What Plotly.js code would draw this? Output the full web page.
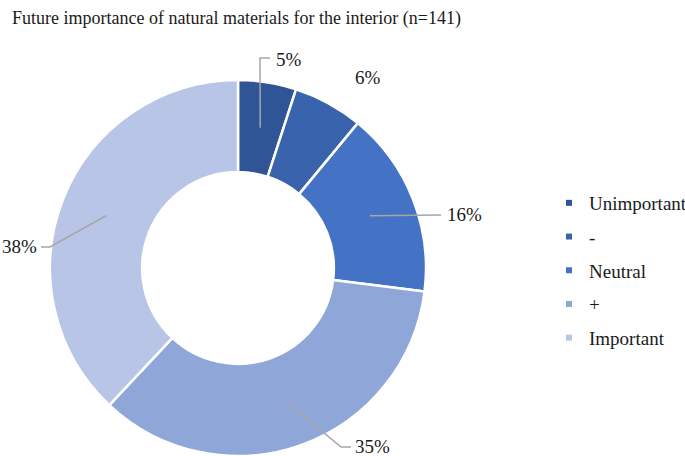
<!DOCTYPE html>
<html>
<head>
<meta charset="utf-8">
<script src="https://cdn.plot.ly/plotly-3.0.1.min.js"></script>
<style>
  html, body { margin: 0; padding: 0; background: #fff; }
  #chart { width: 685px; height: 456px; }
</style>
</head>
<body>
<div id="chart"></div>
<script>
// Datos del gráfico
const categories = ['Unimportant', '-', 'Neutral', '+', 'Important'];
const shares = [5, 6, 16, 35, 38];
const colors = ['#2F5597', '#3A63AE', '#4472C4', '#8FA6D8', '#B9C5E6'];

// Geometría (píxeles)
const W = 685, H = 456;
const cx = 238, cy = 268, R = 188, hole = 0.51;
const px = x => x / W;
const py = y => 1 - y / H;

// Posición de cada etiqueta y puntos de la línea guía (píxeles)
const labelPos = [
    { tx: 289, ty: 60, via: [[260, 58], [270, 58]] },
    { tx: 368, ty: 78, via: [] },
    { tx: 465, ty: 214, via: [[441, 215]] },
    { tx: 372, ty: 446, via: [[341, 447], [351, 447]] },
    { tx: 19, ty: 247, via: [[50, 247], [41, 247]] }
];

const total = shares.reduce((a, b) => a + b, 0);
const rMid = R * (1 + hole) / 2;

const annotations = [];
const shapes = [];
let acc = 0;
shares.forEach((v, i) => {
    const mid = (acc + v / 2) / total * 2 * Math.PI;
    acc += v;
    const ax = cx + rMid * Math.sin(mid);
    const ay = cy - rMid * Math.cos(mid);
    const lp = labelPos[i];
    annotations.push({
        xref: 'paper', yref: 'paper',
        x: px(lp.tx), y: py(lp.ty),
        xanchor: 'center', yanchor: 'middle',
        text: Math.round(v / total * 100) + '%',
        showarrow: false,
        font: { family: 'Liberation Serif', size: 19, color: '#1a1a1a' }
    });
    if (lp.via.length) {
        const pts = [[ax, ay]].concat(lp.via);
        const path = pts.map((p, k) => (k ? 'L' : 'M') + px(p[0]) + ',' + py(p[1])).join(' ');
        shapes.push({
            type: 'path', xref: 'paper', yref: 'paper', path: path,
            line: { color: '#A6A6A6', width: 1.5 }
        });
    }
});

const pieTrace = {
    type: 'pie',
    labels: categories,
    values: shares,
    sort: false,
    direction: 'clockwise',
    rotation: 0,
    hole: hole,
    textinfo: 'none',
    hoverinfo: 'skip',
    showlegend: false,
    marker: { colors: colors, line: { color: '#ffffff', width: 2.5 } },
    domain: { x: [px(cx - R), px(cx + R)], y: [py(cy + R), py(cy - R)] }
};

// Leyenda con marcadores pequeños
const legendTraces = categories.map((c, i) => ({
    type: 'scatter',
    x: [null], y: [null],
    mode: 'markers',
    name: c,
    legendgroup: 'g' + i,
    marker: { symbol: 'square', size: 6, color: colors[i] },
    hoverinfo: 'skip'
}));

const layout = {
    width: W, height: H,
    margin: { l: 0, r: 0, t: 0, b: 0, autoexpand: false },
    paper_bgcolor: '#fff',
    plot_bgcolor: '#fff',
    title: {
        text: 'Future importance of natural materials for the interior (n=141)',
        font: { family: 'Liberation Serif', size: 18, color: '#1a1a1a' },
        xref: 'paper', yref: 'paper',
        x: px(12), xanchor: 'left',
        y: py(18), yanchor: 'middle'
    },
    xaxis: { visible: false },
    yaxis: { visible: false },
    showlegend: true,
    legend: {
        x: px(549), xanchor: 'left',
        y: py(184), yanchor: 'top',
        tracegroupgap: 6,
        font: { family: 'Liberation Serif', size: 19, color: '#1a1a1a' },
        bgcolor: 'rgba(0,0,0,0)'
    },
    annotations: annotations,
    shapes: shapes
};

Plotly.newPlot('chart', [pieTrace].concat(legendTraces), layout, { displayModeBar: false, staticPlot: true });
</script>
</body>
</html>
